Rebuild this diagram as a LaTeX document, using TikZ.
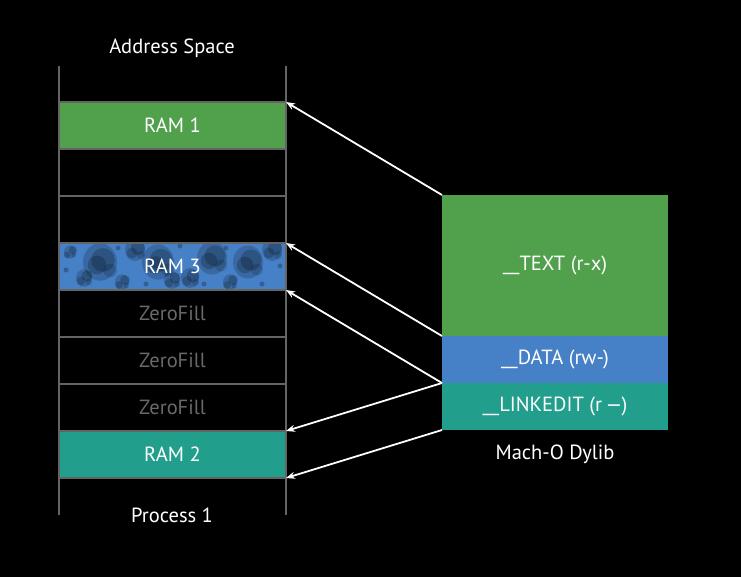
\documentclass[tikz,border=0pt]{standalone}
\usepackage{fontspec}
\setmainfont{PT Sans}
\usetikzlibrary{positioning,arrows.meta}

\definecolor{ramgreen}{RGB}{80,160,76}
\definecolor{ramblue}{RGB}{70,128,198}
\definecolor{ramteal}{RGB}{34,158,140}
\definecolor{linegray}{RGB}{100,100,100}
\definecolor{zerogray}{RGB}{105,105,105}

\tikzset{
  row/.style={draw=linegray, line width=1.5pt, minimum width=227pt, minimum height=47pt,
    inner sep=0pt, outer sep=0pt, text=white, font=\fontsize{20.5}{20.5}\selectfont},
  zerorow/.style={row, text=zerogray},
  seg/.style={minimum width=226pt, inner sep=0pt, outer sep=0pt, text=white,
    font=\fontsize{20.5}{20.5}\selectfont},
  caption/.style={text=white, font=\fontsize{20.5}{20.5}\selectfont},
  maparrow/.style={-{Stealth[length=9pt,width=7pt]}, white, line width=1.8pt}
}

\begin{document}
\begin{tikzpicture}[x=1pt,y=-1pt]
  \fill[black] (0,0) rectangle (741,577);
  \useasboundingbox (0,0) rectangle (741,577);

  % address space column
  \node[row, fill=ramgreen, anchor=north west] (ram1) at (59,102) {RAM 1};
  \node[row, below=0pt of ram1] (gap1) {};
  \node[row, below=0pt of gap1] (gap2) {};
  \node[row, fill=ramblue, below=0pt of gap2] (ram3) {};
  \node[zerorow, below=0pt of ram3] (zero1) {ZeroFill};
  \node[zerorow, below=0pt of zero1] (zero2) {ZeroFill};
  \node[zerorow, below=0pt of zero2] (zero3) {ZeroFill};
  \node[row, fill=ramteal, below=0pt of zero3] (ram2) {RAM 2};

  % blotchy texture on RAM 3
  \begin{scope}
    \clip (ram3.north west) rectangle (ram3.south east);
    \foreach \bx/\by/\br in {100/262/17, 84/278/8, 135/250/10, 158/262/16, 172/280/8,
        212/258/15, 190/278/9, 248/262/15, 272/250/10, 122/282/7, 70/252/6, 230/282/7}{
      \fill[black, opacity=0.18] (\bx,\by) ellipse ({\br} and {1.1*\br});
      \fill[black, opacity=0.2] (\bx+3,\by-2) circle ({0.7*\br});
      \fill[black, opacity=0.2] (\bx-3,\by+3) circle ({0.55*\br});
      \fill[black, opacity=0.15] ({\bx+0.6*\br},{\by+0.5*\br}) circle ({0.4*\br});
    }
    \foreach \bx/\by in {66/270, 118/248, 146/284, 180/246, 204/284, 262/284, 280/266, 226/248}{
      \fill[black, opacity=0.25] (\bx,\by) circle (2.5);
    }
  \end{scope}
  \node[row, draw=linegray] at (ram3) {RAM 3};

  \draw[linegray, line width=1.5pt] (59,66) -- (59,515);
  \draw[linegray, line width=1.5pt] (286,66) -- (286,515);

  \node[caption] (space) at (172,48) {Address Space};
  \node[caption] (proc) at (172,515) {Process 1};

  % dylib segments
  \node[seg, fill=ramgreen, minimum height=141pt, anchor=north west] (text) at (442,195) {\_\_TEXT (r-x)};
  \node[seg, fill=ramblue, minimum height=47pt, below=0pt of text] (data) {\_\_DATA (rw-)};
  \node[seg, fill=ramteal, minimum height=47pt, below=0pt of data] (linkedit) {\_\_LINKEDIT (r\,—)};
  \node[caption, below=11pt of linkedit] (dylib) {Mach-O Dylib};

  % mappings
  \draw[maparrow] (text.north west) -- (ram1.north east);
  \draw[maparrow] (data.north west) -- (ram3.north east);
  \draw[maparrow] (linkedit.north west) -- (zero1.north east);
  \draw[maparrow] (linkedit.north west) -- (ram2.north east);
  \draw[maparrow] (linkedit.south west) -- (ram2.south east);
\end{tikzpicture}
\end{document}
